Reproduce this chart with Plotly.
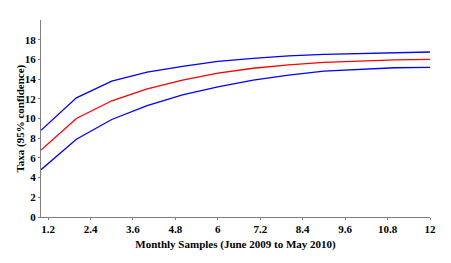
import plotly.graph_objects as go

months = [1, 2, 3, 4, 5, 6, 7, 8, 9, 10, 11, 12]
lower = [4.8, 7.9, 9.9, 11.3, 12.4, 13.2, 13.9, 14.4, 14.8, 15.0, 15.15, 15.2]
mean = [6.8, 10.0, 11.8, 13.0, 13.9, 14.6, 15.1, 15.45, 15.7, 15.85, 15.95, 16.0]
upper = [8.8, 12.1, 13.8, 14.7, 15.3, 15.8, 16.1, 16.35, 16.5, 16.6, 16.7, 16.75]
xticks = [1.2, 2.4, 3.6, 4.8, 6, 7.2, 8.4, 9.6, 10.8, 12]
xticklabels = ["1.2", "2.4", "3.6", "4.8", "6", "7.2", "8.4", "9.6", "10.8", "12"]
yticks = [0, 2, 4, 6, 8, 10, 12, 14, 16, 18]

fig = go.Figure()
fig.add_trace(go.Scatter(x=months, y=upper, mode="lines", line=dict(color="#0000ff", width=1.3)))
fig.add_trace(go.Scatter(x=months, y=mean, mode="lines", line=dict(color="#ff0000", width=1.3)))
fig.add_trace(go.Scatter(x=months, y=lower, mode="lines", line=dict(color="#0000ff", width=1.3)))

font = dict(family="Liberation Serif, Times New Roman, serif", size=11, color="black")
fig.update_layout(
    width=443, height=255,
    margin=dict(l=33, r=21, t=12, b=46),
    plot_bgcolor="white", paper_bgcolor="white",
    showlegend=False,
    font=font,
)
fig.update_xaxes(
    range=[1, 12], tickvals=xticks, ticktext=["<b>%s</b>" % t for t in xticklabels],
    showline=True, linecolor="#808080", linewidth=1, ticks="outside", ticklen=2, tickcolor="#808080",
    showgrid=False, zeroline=False, automargin=False,
    title=dict(text="<b>Monthly Samples (June 2009 to May 2010)</b>", font=dict(size=11), standoff=6),
)
fig.update_yaxes(
    range=[0, 20], tickvals=yticks, ticktext=["<b>%d</b>" % t for t in yticks],
    showline=True, linecolor="#808080", linewidth=1, ticks="outside", ticklen=2, tickcolor="#808080",
    showgrid=False, zeroline=False, automargin=False,
)
fig.add_annotation(
    text="<b>Taxa (95% confidence)</b>", textangle=-90, showarrow=False,
    xref="paper", yref="paper", x=0, y=0.5, xanchor="center", yanchor="middle",
    xshift=-21, font=dict(size=11),
)
fig.write_html("out.html")
